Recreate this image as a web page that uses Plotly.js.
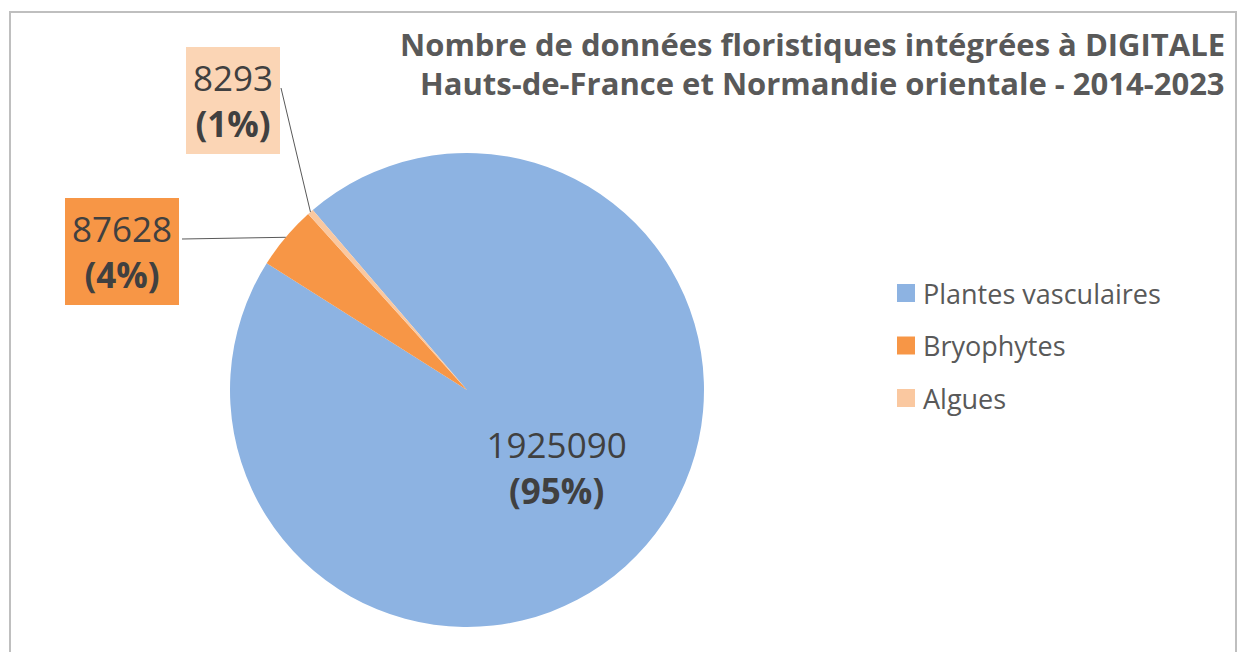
<!DOCTYPE html>
<html>
<head>
<meta charset="utf-8">
<script src="https://cdn.plot.ly/plotly-3.0.1.min.js"></script>
<style>
html,body{margin:0;padding:0;background:#fff;}
#chart{width:1242px;height:652px;}
</style>
</head>
<body>
<div id="chart"></div>
<script>
// ---- data ----
const categories = ['Plantes vasculaires', 'Bryophytes', 'Algues'];
const values = [1925090, 87628, 8293];
const pctLabels = ['95%', '4%', '1%'];
const sliceColors = ['#8DB3E2', '#F79646', '#FAC8A0'];
const boxColors = ['#8DB3E2', '#F79646', '#FBD5B5'];
const titleLines = ['Nombre de données floristiques intégrées à DIGITALE',
                    'Hauts-de-France et Normandie orientale - 2014-2023'];

// ---- layout geometry ----
const W = 1242, H = 652;
const FONT = '"Open Sans", sans-serif';
const cx = 467, cy = 390, R = 237;
const rotation = -40.6;
const domX = [(cx - R) / W, (cx + R) / W];
const domY = [1 - (cy + R) / H, 1 - (cy - R) / H];

// label anchor positions (pixels) for outside boxed labels
const labelPos = [null, {x: 122, y: 251, lx: 182, ly: 239}, {x: 233, y: 100, lx: 281, ly: 88}];

const total = values.reduce((a, b) => a + b, 0);
const annotations = [];
const shapes = [];
let acc = 0;
values.forEach((v, i) => {
  const a0 = acc / total * 360 + rotation;
  acc += v;
  const a1 = acc / total * 360 + rotation;
  const mid = (a0 + a1) / 2 * Math.PI / 180;
  const p = labelPos[i];
  if (!p) return;
  const ex = cx + R * Math.sin(mid);
  const ey = cy - R * Math.cos(mid);
  shapes.push({type: 'line', xref: 'paper', yref: 'paper',
    x0: ex / W, y0: 1 - ey / H, x1: p.lx / W, y1: 1 - p.ly / H,
    line: {color: '#595959', width: 1}});
  annotations.push({xref: 'paper', yref: 'paper', x: p.x / W, y: 1 - p.y / H,
    xanchor: 'center', yanchor: 'middle', showarrow: false,
    text: v + '<br><b>(' + pctLabels[i] + ')</b>',
    font: {family: FONT, size: 35, color: '#404040'},
    bgcolor: boxColors[i], borderpad: 7, borderwidth: 0});
});

// frame
shapes.push({type: 'rect', xref: 'paper', yref: 'paper',
  x0: 10 / W, x1: 1236 / W, y0: -0.05, y1: 1 - 12 / H,
  line: {color: '#BFBFBF', width: 2}, fillcolor: 'rgba(0,0,0,0)'});

// title (two lines)
const titleY = [44, 83];
titleLines.forEach((t, i) => {
  annotations.push({xref: 'paper', yref: 'paper', x: 1227 / W, y: 1 - titleY[i] / H,
    xanchor: 'right', yanchor: 'middle', align: 'right', showarrow: false,
    text: '<b>' + t + '</b>',
    font: {family: FONT, size: 31, color: '#595959'}});
});

// legend (drawn from categories / colours)
const legX = 897, legSq = 18, legY0 = 293, legDy = 52.5;
categories.forEach((c, i) => {
  const y = legY0 + i * legDy;
  shapes.push({type: 'rect', xref: 'paper', yref: 'paper',
    x0: legX / W, x1: (legX + legSq) / W,
    y0: 1 - (y + legSq / 2) / H, y1: 1 - (y - legSq / 2) / H,
    fillcolor: sliceColors[i], line: {width: 0}});
  annotations.push({xref: 'paper', yref: 'paper', x: (legX + legSq + 6) / W, y: 1 - y / H,
    xanchor: 'left', yanchor: 'middle', showarrow: false, text: c,
    font: {family: FONT, size: 27, color: '#595959'}});
});

const trace = {
  type: 'pie',
  labels: categories,
  values: values,
  customdata: pctLabels,
  sort: false,
  direction: 'clockwise',
  rotation: rotation,
  marker: {colors: sliceColors, line: {color: '#FFFFFF', width: 0}},
  texttemplate: ['%{value:d}<br><b>(%{customdata})</b>', '', ''],
  textposition: ['inside', 'none', 'none'],
  insidetextorientation: 'horizontal',
  textfont: {family: FONT, size: 35, color: '#404040'},
  hoverinfo: 'label+value+percent',
  showlegend: false,
  domain: {x: domX, y: domY}
};

const layout = {
  width: W, height: H,
  margin: {l: 0, r: 0, t: 0, b: 0},
  paper_bgcolor: '#FFFFFF',
  showlegend: false,
  annotations: annotations,
  shapes: shapes
};

Plotly.newPlot('chart', [trace], layout, {displayModeBar: false});
</script>
</body>
</html>
